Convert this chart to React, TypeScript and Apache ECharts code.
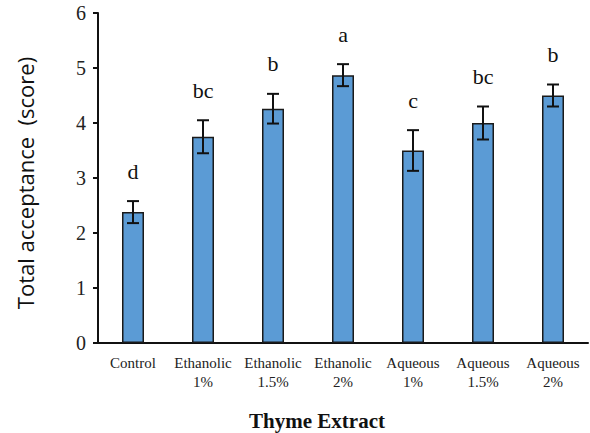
import React, { useEffect, useRef } from "react";
import * as echarts from "echarts";

const categories = ["Control", "Ethanolic\n1%", "Ethanolic\n1.5%", "Ethanolic\n2%", "Aqueous\n1%", "Aqueous\n1.5%", "Aqueous\n2%"];
const means = [2.38, 3.75, 4.26, 4.87, 3.5, 4.0, 4.5];
const errors = [0.2, 0.3, 0.27, 0.2, 0.37, 0.3, 0.2];
const letters = ["d", "bc", "b", "a", "c", "bc", "b"];
const yTicks = [0, 1, 2, 3, 4, 5, 6];

export default function App() {
  const ref = useRef<HTMLDivElement>(null);
  useEffect(() => {
    if (!ref.current) return;
    const chart = echarts.init(ref.current, null, { renderer: "svg" });
    const serif = "Liberation Serif";
    chart.setOption({
      animation: false,
      grid: { left: 98, right: 2, top: 13, bottom: 90 },
      xAxis: {
        type: "category",
        data: categories,
        axisLine: { lineStyle: { color: "#111", width: 2 } },
        axisTick: { alignWithLabel: true, length: 4, lineStyle: { color: "#111", width: 2 } },
        axisLabel: { interval: 0, fontFamily: serif, fontSize: 15, lineHeight: 19, color: "#222", margin: 10 },
      },
      yAxis: {
        type: "value",
        min: yTicks[0],
        max: yTicks[yTicks.length - 1],
        interval: 1,
        splitLine: { show: false },
        axisLine: { show: true, lineStyle: { color: "#111", width: 2 } },
        axisTick: { show: true, length: 5, lineStyle: { color: "#111", width: 2 } },
        axisLabel: { fontFamily: serif, fontSize: 20, lineHeight: 22, color: "#222", margin: 12 },
      },
      graphic: [
        {
          type: "text",
          x: 317,
          y: 421,
          style: {
            text: "Thyme Extract",
            font: "bold 21px 'Liberation Serif', serif",
            fill: "#111",
            align: "center",
            verticalAlign: "middle",
          },
        },
        {
          type: "text",
          x: 25,
          y: 183,
          rotation: Math.PI / 2,
          style: {
            text: "Total acceptance  (score)",
            font: "22px 'Open Sans', sans-serif",
            fill: "#111",
            align: "center",
            verticalAlign: "middle",
          },
        },
      ],
      series: [
        {
          type: "bar",
          data: means,
          barWidth: 22,
          itemStyle: { color: "#5B9BD5", borderColor: "#1a1a1a", borderWidth: 1.5 },
        },
        {
          type: "custom",
          data: means.map((m, i) => [i, m, errors[i]]),
          renderItem: (params: any, api: any) => {
            const i = api.value(0);
            const m = api.value(1);
            const e = api.value(2);
            const letter = letters[params.dataIndex];
            const top = api.coord([i, m + e]);
            const bot = api.coord([i, m - e]);
            const cx = top[0];
            const hw = 6;
            const ls = { stroke: "#111", lineWidth: 2 };
            return {
              type: "group",
              children: [
                { type: "line", shape: { x1: cx, y1: top[1], x2: cx, y2: bot[1] }, style: ls },
                { type: "line", shape: { x1: cx - hw, y1: top[1], x2: cx + hw, y2: top[1] }, style: ls },
                { type: "line", shape: { x1: cx - hw, y1: bot[1], x2: cx + hw, y2: bot[1] }, style: ls },
                {
                  type: "text",
                  x: cx,
                  y: top[1] - 30,
                  style: {
                    text: letter,
                    font: "22px 'Liberation Serif', serif",
                    fill: "#111",
                    align: "center",
                    verticalAlign: "middle",
                  },
                },
              ],
            };
          },
          z: 5,
        },
      ],
    });
    return () => chart.dispose();
  }, []);
  return <div ref={ref} style={{ position: "absolute", left: 0, top: 0, width: 590, height: 433 }} />;
}
